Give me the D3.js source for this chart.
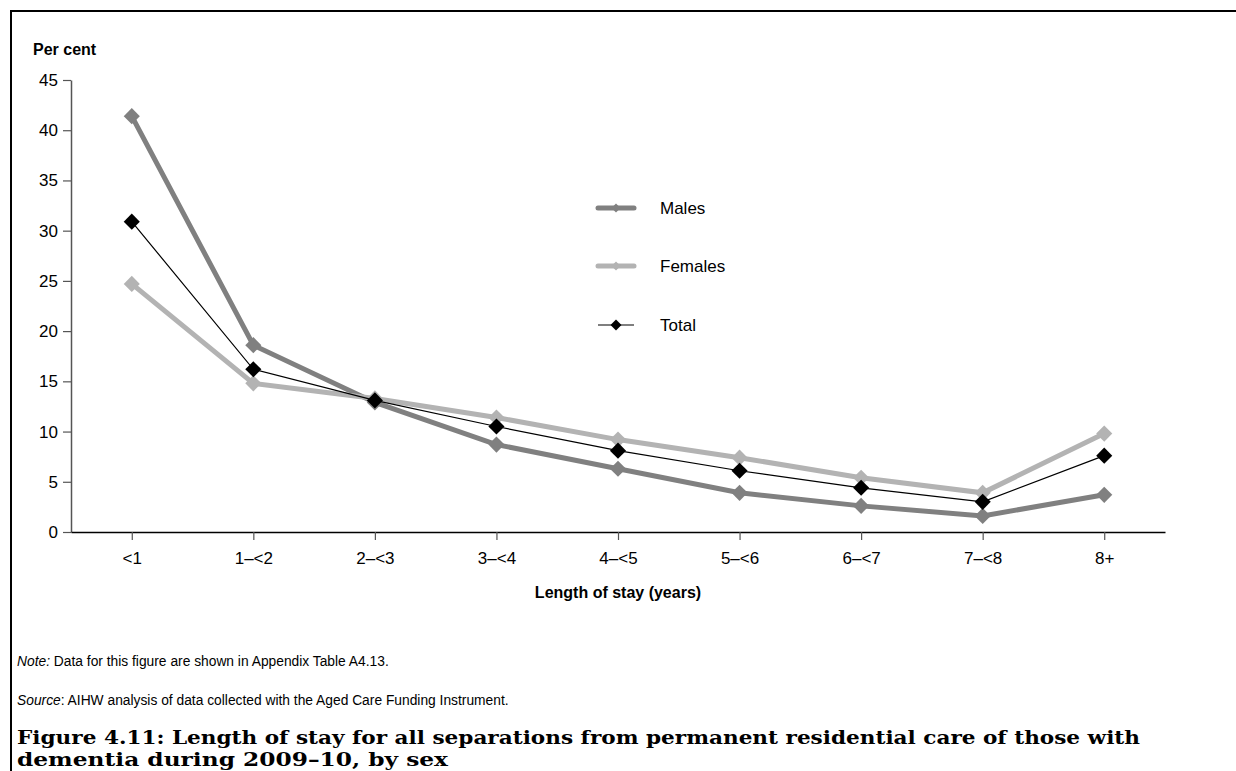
<!DOCTYPE html>
<html>
<head>
<meta charset="utf-8">
<script src="https://cdn.jsdelivr.net/npm/d3@7"></script>
<style>
  html, body { margin: 0; padding: 0; background: #fff; }
  svg { display: block; }
</style>
</head>
<body>
<svg id="chart" width="1236" height="771"></svg>
<script>
// ---------- data ----------
const categories = ["<1", "1\u2013<2", "2\u2013<3", "3\u2013<4", "4\u2013<5", "5\u2013<6", "6\u2013<7", "7\u2013<8", "8+"];
const males   = [41.4, 18.6, 12.9, 8.7, 6.3, 3.9, 2.6, 1.6, 3.7];
const females = [24.7, 14.8, 13.3, 11.4, 9.2, 7.4, 5.4, 3.9, 9.8];
const total   = [30.9, 16.2, 13.1, 10.5, 8.1, 6.1, 4.4, 3.0, 7.6];
const yTicks  = [0, 5, 10, 15, 20, 25, 30, 35, 40, 45];
const seriesNames = ["Males", "Females", "Total"];

const yLabel = "Per cent";
const xLabel = "Length of stay (years)";
const noteText = "Data for this figure are shown in Appendix Table A4.13.";
const sourceText = "AIHW analysis of data collected with the Aged Care Funding Instrument.";
const titleLines = [
  "Figure 4.11: Length of stay for all separations from permanent residential care of those with",
  "dementia during 2009\u201310, by sex"
];

// ---------- styles ----------
const styles = {
  Males:   { color: "#808080", width: 5,   marker: 130, legendMarker: 40 },
  Females: { color: "#b3b3b3", width: 5,   marker: 130, legendMarker: 40 },
  Total:   { color: "#000000", width: 1.2, marker: 130, legendMarker: 60 }
};
const seriesData = { Males: males, Females: females, Total: total };

const svg = d3.select("#chart");
const sans = "'Liberation Sans', Arial, sans-serif";

// frame
svg.append("line").attr("x1", 10).attr("x2", 1236).attr("y1", 11).attr("y2", 11)
  .attr("stroke", "#000").attr("stroke-width", 2);
svg.append("line").attr("x1", 11).attr("x2", 11).attr("y1", 10).attr("y2", 771)
  .attr("stroke", "#000").attr("stroke-width", 2);

// scales
const x = d3.scalePoint().domain(categories).range([71, 1165]).padding(0.5);
const y = d3.scaleLinear().domain([0, 45]).range([532, 80]);

// y axis
const yAxis = svg.append("g").attr("transform", "translate(71,0)")
  .call(d3.axisLeft(y).tickValues(yTicks).tickSize(8).tickSizeOuter(0).tickPadding(5));
yAxis.select(".domain").attr("stroke", "#555").attr("stroke-width", 1.5);
yAxis.selectAll(".tick line").attr("stroke", "#555").attr("stroke-width", 1.2);
yAxis.selectAll(".tick text").attr("font-family", sans).attr("font-size", 17).attr("fill", "#000");

// x axis
const xAxis = svg.append("g").attr("transform", "translate(0,532)")
  .call(d3.axisBottom(x).tickSize(8).tickSizeOuter(0).tickPadding(12));
xAxis.select(".domain").attr("stroke", "#000").attr("stroke-width", 1.5);
xAxis.selectAll(".tick line").attr("stroke", "#555").attr("stroke-width", 1.2);
xAxis.selectAll(".tick text").attr("font-family", sans).attr("font-size", 17).attr("fill", "#000");

// axis titles
svg.append("text").attr("x", 33).attr("y", 55).attr("font-family", sans)
  .attr("font-weight", "bold").attr("font-size", 16).text(yLabel);
svg.append("text").attr("x", 618).attr("y", 598).attr("text-anchor", "middle")
  .attr("font-family", sans).attr("font-weight", "bold").attr("font-size", 16).text(xLabel);

// series
const line = d3.line().x((d, i) => x(categories[i])).y(d => y(d));
seriesNames.forEach(name => {
  const st = styles[name];
  const vals = seriesData[name];
  const g = svg.append("g");
  g.append("path").datum(vals).attr("d", line).attr("fill", "none")
    .attr("stroke", st.color).attr("stroke-width", st.width).attr("stroke-linejoin", "miter");
  g.selectAll("path.m").data(vals).enter().append("path").attr("class", "m")
    .attr("d", d3.symbol().type(d3.symbolSquare).size(st.marker))
    .attr("transform", (d, i) => `translate(${x(categories[i])},${y(d)}) rotate(45)`)
    .attr("fill", st.color);
});

// legend
const legendY = { Males: 208, Females: 266, Total: 325 };
seriesNames.forEach(name => {
  const st = styles[name];
  const ly = legendY[name];
  svg.append("line").attr("x1", 598).attr("x2", 634).attr("y1", ly).attr("y2", ly)
    .attr("stroke", st.color).attr("stroke-width", st.width).attr("stroke-linecap", name === "Total" ? "butt" : "round");
  svg.append("path").attr("d", d3.symbol().type(d3.symbolSquare).size(st.legendMarker))
    .attr("transform", `translate(616,${ly}) rotate(45)`).attr("fill", st.color);
  svg.append("text").attr("x", 660).attr("y", ly + 6).attr("font-family", sans)
    .attr("font-size", 17).text(name);
});

// notes
const note = svg.append("text").attr("x", 17).attr("y", 666).attr("font-family", sans).attr("font-size", 13.8);
note.append("tspan").attr("font-style", "italic").text("Note:");
note.append("tspan").text(" " + noteText);
const src = svg.append("text").attr("x", 17).attr("y", 705).attr("font-family", sans).attr("font-size", 13.8);
src.append("tspan").attr("font-style", "italic").text("Source");
src.append("tspan").text(": " + sourceText);

// title
const serif = "'DejaVu Serif', 'Liberation Serif', serif";
const titleWidths = [1123, 431];
titleLines.forEach((t, i) => {
  svg.append("text").attr("x", 17).attr("y", 744 + i * 22)
    .attr("font-family", serif).attr("font-weight", "bold")
    .attr("font-size", 19).attr("textLength", titleWidths[i])
    .attr("lengthAdjust", "spacingAndGlyphs").text(t);
});
</script>
</body>
</html>
